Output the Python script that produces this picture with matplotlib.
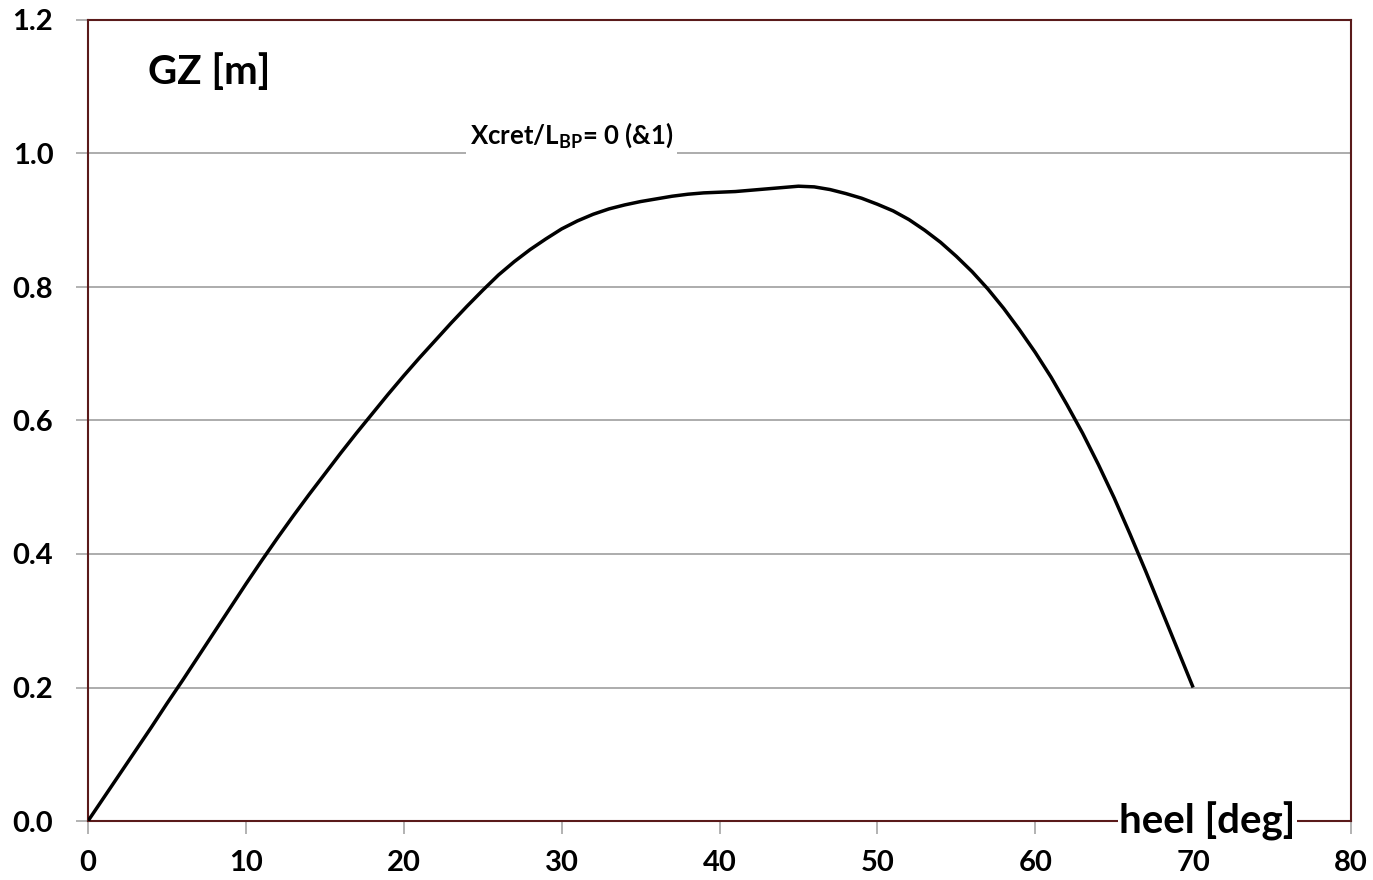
import numpy as np
import matplotlib
matplotlib.use("Agg")
import matplotlib.pyplot as plt

plt.rcParams['font.family'] = ['Lato', 'DejaVu Sans']
plt.rcParams['mathtext.fontset'] = 'custom'
plt.rcParams['mathtext.bf'] = 'Lato:bold'
plt.rcParams['mathtext.rm'] = 'Lato:bold'

# GZ curve, one value per degree of heel
heel = list(range(0, 71))
gz = [0.000, 0.035, 0.070, 0.105, 0.140, 0.176, 0.211, 0.247, 0.283, 0.319,
      0.355, 0.390, 0.424, 0.457, 0.489, 0.520, 0.551, 0.581, 0.610, 0.639,
      0.667, 0.694, 0.720, 0.746, 0.771, 0.795, 0.818, 0.838, 0.856, 0.872,
      0.887, 0.899, 0.909, 0.917, 0.923, 0.928, 0.932, 0.936, 0.939, 0.941,
      0.942, 0.943, 0.945, 0.947, 0.949, 0.951, 0.950, 0.946, 0.940, 0.933,
      0.924, 0.914, 0.901, 0.885, 0.867, 0.846, 0.823, 0.797, 0.768, 0.736,
      0.702, 0.665, 0.624, 0.581, 0.534, 0.484, 0.430, 0.374, 0.316, 0.258,
      0.200]

xticks = [0, 10, 20, 30, 40, 50, 60, 70, 80]
yticks = [0.0, 0.2, 0.4, 0.6, 0.8, 1.0, 1.2]

spine_col = '#5a1a1a'
grid_col = '#a6a6a6'

fig = plt.figure(figsize=(13.73, 8.8), dpi=100)
ax = fig.add_axes([88/1373, 59/880, (1351-88)/1373, (821-20)/880])

for y in yticks[1:-1]:
    ax.axhline(y, color=grid_col, lw=1.3, zorder=1)

ax.plot(heel, gz, color='black', lw=2.5, zorder=3, solid_capstyle='butt',
        solid_joinstyle='round')

ax.set_xlim(0, 80)
ax.set_ylim(0, 1.2)
ax.set_xticks(xticks)
ax.set_yticks(yticks)
ax.set_xticklabels([str(v) for v in xticks])
ax.set_yticklabels(['%.1f' % v for v in yticks])
ax.tick_params(axis='both', direction='out', length=9, width=1.2, color=grid_col,
               labelsize=21)
ax.tick_params(axis='x', pad=12)
ax.tick_params(axis='y', pad=16)
for lab in ax.get_xticklabels() + ax.get_yticklabels():
    lab.set_fontweight('bold')

for s in ax.spines.values():
    s.set_color(spine_col)
    s.set_linewidth(1.5)

ax.text(3.8, 1.122, 'GZ [m]', fontsize=29, fontweight='bold', va='center', ha='left')
ax.text(65.3, 0.0, 'heel [deg]', fontsize=29, fontweight='bold', va='center', ha='left',
        bbox=dict(facecolor='white', edgecolor='none', pad=1), zorder=5, clip_on=False)
ax.text(24.2, 1.028, r'Xcret/L$_{\mathbf{BP}}$= 0 (&1)', fontsize=18.5, fontweight='bold',
        va='center', ha='left', zorder=5,
        bbox=dict(facecolor='white', edgecolor='none', pad=3))

fig.savefig('out.png', dpi=100)
